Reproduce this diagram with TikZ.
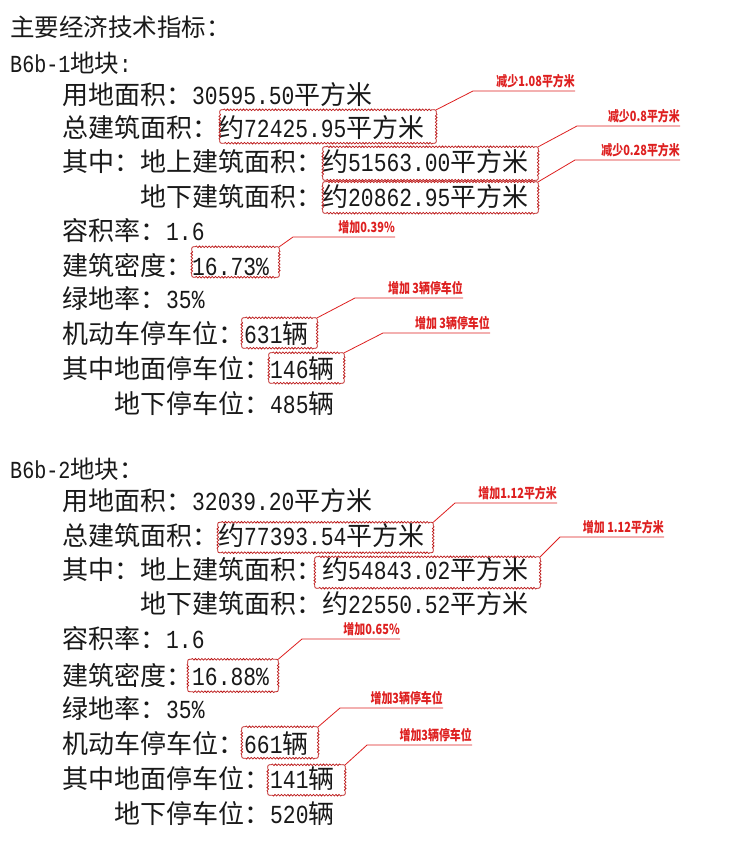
\documentclass[tikz,border=0pt]{standalone}
\usepackage{fontspec}
\setmainfont{Noto Sans CJK SC}
\newfontfamily\digfont[FakeStretch=0.82]{Liberation Mono}
\newfontfamily\annfont[FakeStretch=0.78]{Noto Sans CJK SC}
\usetikzlibrary{decorations.pathmorphing}
\newcommand\D[1]{{\digfont #1}}
\definecolor{annred}{RGB}{222,32,32}
\definecolor{txt}{RGB}{25,25,25}
\tikzset{
 row/.style={anchor=base west, inner sep=0pt, text=txt, font=\fontsize{26pt}{26pt}\selectfont},
 head/.style={row, font=\fontsize{24.5pt}{24.5pt}\selectfont},
 cloudbox/.style={inner sep=0pt},
 cornerline/.style={draw=annred!85!black, line width=0.75pt},
 cloudline/.style={cornerline, decorate, decoration={snake, amplitude=0.8pt, segment length=3.2pt}},
 ann/.style={anchor=base east, inner sep=0pt, text=annred, font=\annfont\bfseries\fontsize{14pt}{14pt}\selectfont},
 lead/.style={draw=annred, line width=0.8pt},
}
\newcommand\cloudrect[1]{%
 \draw[cloudline] ([xshift=3.5pt]#1.north west) -- ([xshift=-3.5pt]#1.north east);
 \draw[cloudline] ([yshift=-3.5pt]#1.north east) -- ([yshift=3.5pt]#1.south east);
 \draw[cloudline] ([xshift=-3.5pt]#1.south east) -- ([xshift=3.5pt]#1.south west);
 \draw[cloudline] ([yshift=3.5pt]#1.south west) -- ([yshift=-3.5pt]#1.north west);
 \draw[cornerline] ([xshift=-3.5pt]#1.north east) .. controls (#1.north east) .. ([yshift=-3.5pt]#1.north east);
 \draw[cornerline] ([yshift=3.5pt]#1.south east) .. controls (#1.south east) .. ([xshift=-3.5pt]#1.south east);
 \draw[cornerline] ([xshift=3.5pt]#1.south west) .. controls (#1.south west) .. ([yshift=3.5pt]#1.south west);
 \draw[cornerline] ([yshift=-3.5pt]#1.north west) .. controls (#1.north west) .. ([xshift=3.5pt]#1.north west);
}
\begin{document}
\begin{tikzpicture}[x=1pt,y=-1pt]
\fill[white] (0,0) rectangle (744,859);
\useasboundingbox (0,0) rectangle (744,859);
% block 1
\node[head] (r1) at (10,37) {主要经济技术指标：};
\node[head] (r2) at (10,72) {\D{B6b-1}地块\D{:}};
\node[row] (r3) at (62,104) {用地面积：\D{30595.50}平方米};
\node[row] (r4) at (62,137) {总建筑面积：约\D{72425.95}平方米};
\node[row] (r5) at (62,171) {其中：地上建筑面积：约\D{51563.00}平方米};
\node[row] (r6) at (140,206) {地下建筑面积：约\D{20862.95}平方米};
\node[row] (r7) at (62,240) {容积率：\D{1.6}};
\node[row] (r8) at (62,275) {建筑密度：\D{16.73\%}};
\node[row] (r9) at (62,308) {绿地率：\D{35\%}};
\node[row] (r10) at (62,343) {机动车停车位：\D{631}辆};
\node[row] (r11) at (62,378) {其中地面停车位：\D{146}辆};
\node[row] (r12) at (114,413) {地下停车位：\D{485}辆};
% block 2
\node[head] (r13) at (10,478) {\D{B6b-2}地块：};
\node[row] (r14) at (62,510) {用地面积：\D{32039.20}平方米};
\node[row] (r15) at (62,545) {总建筑面积：约\D{77393.54}平方米};
\node[row] (r16) at (62,579) {其中：地上建筑面积：约\D{54843.02}平方米};
\node[row] (r17) at (140,613) {地下建筑面积：约\D{22550.52}平方米};
\node[row] (r18) at (62,648) {容积率：\D{1.6}};
\node[row] (r19) at (62,685) {建筑密度：\D{16.88\%}};
\node[row] (r20) at (62,718) {绿地率：\D{35\%}};
\node[row] (r21) at (62,753) {机动车停车位：\D{661}辆};
\node[row] (r22) at (62,788) {其中地面停车位：\D{141}辆};
\node[row] (r23) at (114,823) {地下停车位：\D{520}辆};
% cloud boxes
\node[cloudbox, minimum width=216pt, minimum height=33pt] (b1) at (328,126.5) {};
\node[cloudbox, minimum width=215pt, minimum height=33pt] (b2) at (430.5,163.5) {};
\node[cloudbox, minimum width=215pt, minimum height=31pt] (b3) at (430.5,197.5) {};
\node[cloudbox, minimum width=87pt, minimum height=30pt] (b4) at (235.5,262) {};
\node[cloudbox, minimum width=75pt, minimum height=30pt] (b5) at (279.5,333) {};
\node[cloudbox, minimum width=75pt, minimum height=30pt] (b6) at (306.5,368) {};
\node[cloudbox, minimum width=215pt, minimum height=30pt] (b7) at (325.5,537.5) {};
\node[cloudbox, minimum width=225pt, minimum height=31pt] (b8) at (427.5,572.5) {};
\node[cloudbox, minimum width=90pt, minimum height=32pt] (b9) at (233,675.5) {};
\node[cloudbox, minimum width=76pt, minimum height=31pt] (b10) at (280,742.5) {};
\node[cloudbox, minimum width=77pt, minimum height=30pt] (b11) at (306.5,780) {};
\foreach \i in {1,...,11}{
  \cloudrect{b\i}
}
% annotations
\node[ann] (a1) at (575,86) {减少1.08平方米};
\node[ann] (a2) at (680,121) {减少0.8平方米};
\node[ann] (a3) at (680,155) {减少0.28平方米};
\node[ann] (a4) at (395,232) {增加0.39\%};
\node[ann] (a5) at (463,293) {增加 3辆停车位};
\node[ann] (a6) at (490,328) {增加 3辆停车位};
\node[ann] (a7) at (557,498) {增加1.12平方米};
\node[ann] (a8) at (664,532) {增加 1.12平方米};
\node[ann] (a9) at (400,634) {增加0.65\%};
\node[ann] (a10) at (443,703) {增加3辆停车位};
\node[ann] (a11) at (472,740) {增加3辆停车位};
\coordinate (u1) at (473,91);
\coordinate (u2) at (577,126);
\coordinate (u3) at (575,160);
\coordinate (u4) at (293,237);
\coordinate (u5) at (355,298);
\coordinate (u6) at (383,333);
\coordinate (u7) at (455,503);
\coordinate (u8) at (560,537);
\coordinate (u9) at (302,639);
\coordinate (u10) at (340,708);
\coordinate (u11) at (367,745);
\foreach \i in {1,...,11}{
  \draw[lead] (b\i.north east) -- (u\i) -- (u\i -| a\i.east);
}
\end{tikzpicture}
\end{document}
